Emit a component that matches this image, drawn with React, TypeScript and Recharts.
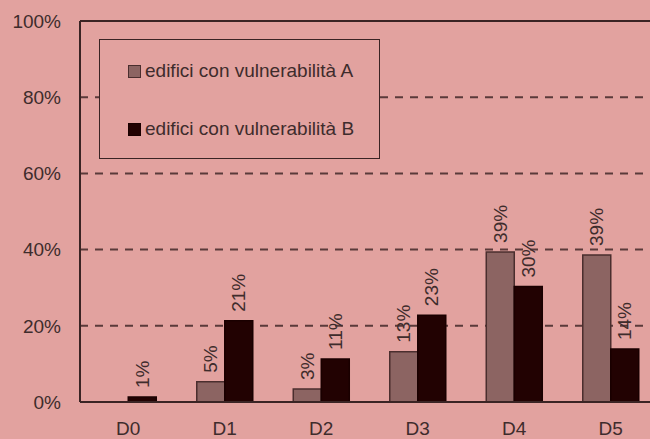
import React from "react";
import {
  BarChart,
  Bar,
  XAxis,
  YAxis,
  CartesianGrid,
  ReferenceLine,
  LabelList,
} from "recharts";

const categories = ["D0", "D1", "D2", "D3", "D4", "D5"];
const vulnA = [0, 5.3, 3.4, 13.2, 39.4, 38.6];
const vulnB = [1.3, 21.3, 11.3, 22.8, 30.3, 13.9];
const yTicks = [0, 20, 40, 60, 80, 100];

const seriesNames = ["edifici con vulnerabilità A", "edifici con vulnerabilità B"];

const BG = "#E2A29F";
const TEXT = "#3e2c2c";
const FILL_A = "#8C6462";
const FILL_B = "#220202";
const FONT = "'Liberation Sans', Arial, sans-serif";

const chartData = categories.map((c, i) => ({ name: c, a: vulnA[i], b: vulnB[i] }));

const RotLabel = (props: any) => {
  const { x, y, width, value } = props;
  if (!value) return null;
  const cx = x + width / 2;
  const cy = y - 9;
  return (
    <text
      x={cx}
      y={cy}
      dy="0.35em"
      transform={`rotate(-90 ${cx} ${cy})`}
      textAnchor="start"
      fontSize={19}
      fontFamily={FONT}
      fill={TEXT}
    >
      {`${Math.round(value)}%`}
    </text>
  );
};

const LegendBox = () => {
  const items = [
    { label: seriesNames[0], fill: FILL_A, stroke: "#4a2e2e" },
    { label: seriesNames[1], fill: FILL_B, stroke: "#1a0000" },
  ];
  return (
    <div
      style={{
        position: "absolute",
        left: 99,
        top: 39,
        width: 281,
        height: 120,
        boxSizing: "border-box",
        border: "1.5px solid #3a2424",
        background: BG,
      }}
    >
      {items.map((it, i) => (
        <div
          key={i}
          style={{
            position: "absolute",
            left: 28,
            top: 20 + i * 58,
            display: "flex",
            alignItems: "center",
            fontFamily: FONT,
            fontSize: 19,
            color: TEXT,
            whiteSpace: "nowrap",
          }}
        >
          <span
            style={{
              display: "inline-block",
              width: 11,
              height: 11,
              background: it.fill,
              border: `1.5px solid ${it.stroke}`,
              marginRight: 4,
            }}
          />
          {it.label}
        </div>
      ))}
    </div>
  );
};

export default function App() {
  return (
    <div
      style={{
        position: "absolute",
        left: 0,
        top: 0,
        width: 650,
        height: 439,
        overflow: "hidden",
        background: BG,
      }}
    >
      <BarChart
        width={680}
        height={439}
        data={chartData}
        margin={{ top: 21, right: 21, bottom: 0, left: 0 }}
        barCategoryGap="21%"
        barGap={0}
      >
        <CartesianGrid
          vertical={false}
          stroke="#5a3a3a"
          strokeWidth={2}
          strokeDasharray="8 7"
        />
        <XAxis
          dataKey="name"
          height={37}
          tickLine={false}
          tickSize={0}
          tickMargin={20}
          axisLine={{ stroke: "#3a2424", strokeWidth: 2 }}
          tick={{ fill: TEXT, fontSize: 19, fontFamily: FONT }}
        />
        <YAxis
          width={80}
          domain={[0, 100]}
          ticks={yTicks}
          tickFormatter={(v: number) => `${v}%`}
          tickLine={false}
          tickSize={0}
          tickMargin={19}
          axisLine={{ stroke: "#3a2424", strokeWidth: 2 }}
          tick={{ fill: TEXT, fontSize: 19, fontFamily: FONT }}
        />
        <ReferenceLine y={100} stroke="#3a2424" strokeWidth={2} />
        <Bar dataKey="a" name={seriesNames[0]} fill={FILL_A} stroke="#4a2e2e" strokeWidth={1.5} isAnimationActive={false}>
          <LabelList dataKey="a" content={RotLabel} />
        </Bar>
        <Bar dataKey="b" name={seriesNames[1]} fill={FILL_B} stroke="#1a0000" strokeWidth={1.5} isAnimationActive={false}>
          <LabelList dataKey="b" content={RotLabel} />
        </Bar>
      </BarChart>
      <LegendBox />
    </div>
  );
}
